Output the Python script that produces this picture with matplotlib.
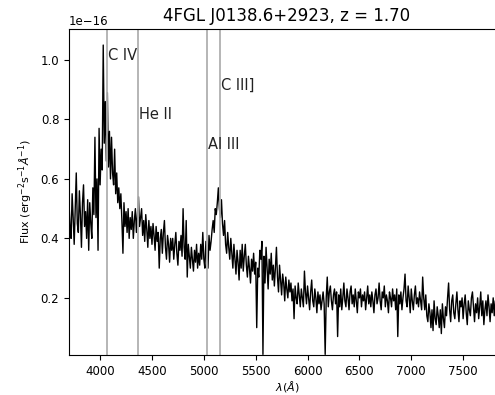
import matplotlib
matplotlib.use('Agg')
import matplotlib.pyplot as plt
import numpy as np

# wavelength grid of the spectrum (Angstrom), 10 A sampling
wave = np.arange(3700, 7901, 10)

# flux, in units of 1e-16, one row per 100 A
flux = [
    0.52, 0.44, 0.40, 0.55, 0.47, 0.38, 0.50, 0.62, 0.45, 0.42,  # 3700
    0.56, 0.48, 0.37, 0.52, 0.58, 0.44, 0.49, 0.40, 0.53, 0.36,  # 3800
    0.52, 0.45, 0.40, 0.57, 0.48, 0.74, 0.47, 0.60, 0.36, 0.77,  # 3900
    0.58, 0.70, 0.63, 1.05, 0.72, 0.86, 0.66, 0.89, 0.64, 0.76,  # 4000
    0.60, 0.74, 0.62, 0.58, 0.70, 0.55, 0.62, 0.52, 0.57, 0.50,  # 4100
    0.55, 0.46, 0.35, 0.52, 0.44, 0.49, 0.42, 0.50, 0.40, 0.47,  # 4200
    0.43, 0.49, 0.40, 0.46, 0.50, 0.42, 0.48, 0.54, 0.44, 0.47,  # 4300
    0.50, 0.41, 0.46, 0.39, 0.48, 0.43, 0.37, 0.46, 0.40, 0.44,  # 4400
    0.38, 0.45, 0.41, 0.36, 0.44, 0.39, 0.42, 0.30, 0.40, 0.43,  # 4500
    0.35, 0.42, 0.46, 0.37, 0.33, 0.41, 0.38, 0.32, 0.40, 0.36,  # 4600
    0.40, 0.33, 0.38, 0.42, 0.35, 0.31, 0.39, 0.36, 0.41, 0.34,  # 4700
    0.50, 0.37, 0.33, 0.46, 0.27, 0.38, 0.34, 0.30, 0.37, 0.33,  # 4800
    0.29, 0.36, 0.32, 0.38, 0.30, 0.35, 0.31, 0.38, 0.33, 0.42,  # 4900
    0.33, 0.30, 0.39, 0.35, 0.30, 0.41, 0.36, 0.39, 0.43, 0.46,  # 5000
    0.42, 0.50, 0.48, 0.52, 0.57, 0.50, 0.47, 0.53, 0.45, 0.41,  # 5100
    0.46, 0.38, 0.35, 0.42, 0.37, 0.33, 0.40, 0.35, 0.30, 0.38,  # 5200
    0.33, 0.28, 0.36, 0.32, 0.26, 0.36, 0.30, 0.38, 0.29, 0.34,  # 5300
    0.38, 0.31, 0.27, 0.34, 0.30, 0.25, 0.33, 0.29, 0.35, 0.28,  # 5400
    0.32, 0.10, 0.30, 0.27, 0.36, 0.33, 0.39, 0.01, 0.34, 0.25,  # 5500
    0.37, 0.30, 0.23, 0.33, 0.28, 0.35, 0.26, 0.31, 0.24, 0.30,  # 5600
    0.37, 0.27, 0.22, 0.31, 0.26, 0.21, 0.28, 0.25, 0.19, 0.27,  # 5700
    0.23, 0.20, 0.26, 0.22, 0.25, 0.19, 0.23, 0.13, 0.24, 0.20,  # 5800
    0.18, 0.25, 0.21, 0.17, 0.23, 0.20, 0.17, 0.29, 0.22, 0.18,  # 5900
    0.24, 0.20, 0.16, 0.22, 0.26, 0.19, 0.17, 0.23, 0.20, 0.15,  # 6000
    0.22, 0.18, 0.21, 0.16, 0.19, 0.22, 0.18, 0.01, 0.20, 0.27,  # 6100
    0.17, 0.22, 0.24, 0.19, 0.16, 0.21, 0.23, 0.18, 0.22, 0.07,  # 6200
    0.21, 0.17, 0.23, 0.16, 0.20, 0.25, 0.19, 0.17, 0.23, 0.20,  # 6300
    0.16, 0.22, 0.24, 0.18, 0.21, 0.17, 0.23, 0.19, 0.15, 0.22,  # 6400
    0.20, 0.23, 0.17, 0.21, 0.19, 0.22, 0.16, 0.20, 0.24, 0.18,  # 6500
    0.21, 0.17, 0.22, 0.19, 0.15, 0.21, 0.23, 0.18, 0.20, 0.25,  # 6600
    0.19, 0.16, 0.22, 0.20, 0.24, 0.17, 0.21, 0.19, 0.15, 0.22,  # 6700
    0.20, 0.17, 0.23, 0.19, 0.21, 0.16, 0.23, 0.07, 0.21, 0.18,  # 6800
    0.22, 0.16, 0.20, 0.23, 0.28, 0.19, 0.17, 0.24, 0.20, 0.15,  # 6900
    0.23, 0.19, 0.16, 0.21, 0.24, 0.18, 0.20, 0.17, 0.22, 0.19,  # 7000
    0.16, 0.27, 0.20, 0.16, 0.21, 0.14, 0.12, 0.18, 0.15, 0.10,  # 7100
    0.16, 0.09, 0.19, 0.13, 0.11, 0.17, 0.14, 0.10, 0.16, 0.08,  # 7200
    0.18, 0.13, 0.10, 0.17, 0.14, 0.20, 0.25, 0.16, 0.12, 0.19,  # 7300
    0.21, 0.15, 0.13, 0.18, 0.22, 0.16, 0.12, 0.19, 0.17, 0.20,  # 7400
    0.13, 0.18, 0.21, 0.15, 0.11, 0.19, 0.16, 0.14, 0.20, 0.22,  # 7500
    0.17, 0.12, 0.18, 0.15, 0.20, 0.13, 0.17, 0.22, 0.14, 0.19,  # 7600
    0.11, 0.16, 0.19, 0.14, 0.21, 0.17, 0.12, 0.18, 0.15, 0.20,  # 7700
    0.14, 0.19, 0.12, 0.17, 0.20, 0.15, 0.13, 0.19, 0.16, 0.18,  # 7800
    0.16,
]

# emission lines: observed position, label, label height
line_names = ['C IV', 'He II', 'Al III', 'C III]']
line_wave = [4065, 4365, 5030, 5160]
label_y = [1.0, 0.8, 0.7, 0.9]

fig = plt.figure(figsize=(4.95, 3.95), dpi=100)
ax = fig.add_axes([0.1394, 0.1013, 0.88, 0.8253])

ax.plot(wave, np.array(flux) * 1e-16, color='black', lw=1)
for w, name, y in zip(line_wave, line_names, label_y):
    ax.axvline(w, color='#b0b0b0', lw=1.3)
    ax.text(w + 10, y * 1e-16, name, fontsize=10.5, color='#222222')

ax.set_xlim(3700, 7900)
ax.set_ylim(0.008e-16, 1.104e-16)
ax.set_xticks([4000, 4500, 5000, 5500, 6000, 6500, 7000, 7500])
ax.set_yticks([0.2e-16, 0.4e-16, 0.6e-16, 0.8e-16, 1.0e-16])
ax.tick_params(labelsize=8.5)
ax.yaxis.get_offset_text().set_fontsize(8.5)
ax.set_xlabel(r'$\lambda(\AA)$', fontsize=8, labelpad=1)
ax.set_ylabel(r'Flux (erg$^{-2}$s$^{-1}\AA^{-1}$)', fontsize=8)
ax.set_title('4FGL J0138.6+2923, z = 1.70', fontsize=12)

fig.savefig('out.png', dpi=100)
